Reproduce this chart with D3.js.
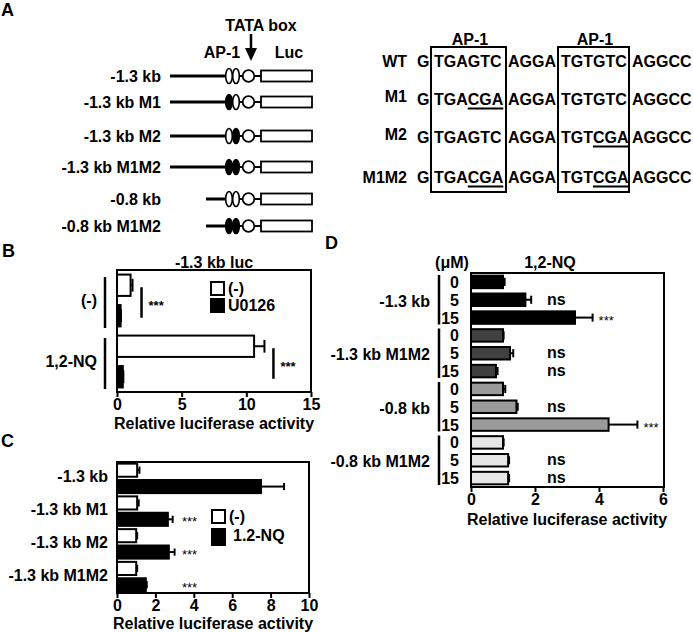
<!DOCTYPE html>
<html>
<head>
<meta charset="utf-8">
<script src="https://cdn.jsdelivr.net/npm/d3@7"></script>
<style>
  body { margin: 0; background: #fff; }
  svg { display: block; }
</style>
</head>
<body>
<svg id="fig" width="693" height="632"></svg>
<script>
// ---- panel A: constructs ----
const aNames = ["-1.3 kb", "-1.3 kb M1", "-1.3 kb M2", "-1.3 kb M1M2", "-0.8 kb", "-0.8 kb M1M2"]
const aStart = [-1.3, -1.3, -1.3, -1.3, -0.8, -0.8]
const aMut1 = [false, true, false, true, false, true]
const aMut2 = [false, false, true, true, false, true]

// ---- panel A: sequences ----
const seqNames = ["WT", "M1", "M2", "M1M2"]
const seqSite1 = ["TGAGTC", "TGACGA", "TGAGTC", "TGACGA"]
const seqSite2 = ["TGTGTC", "TGTGTC", "TGTCGA", "TGTCGA"]

// ---- panel B ----
const bGroups = ["(-)", "1,2-NQ"]
const bSeries = ["(-)", "U0126"]
const bValues = [[1.05, 0.28], [10.6, 0.45]]
const bErrors = [[0.15, 0.03], [0.8, 0.04]]
const bTicks = [0, 5, 10, 15]

// ---- panel C ----
const cGroups = ["-1.3 kb", "-1.3 kb M1", "-1.3 kb M2", "-1.3 kb M1M2"]
const cSeries = ["(-)", "1.2-NQ"]
const cValues = [[1.05, 7.5], [1.05, 2.65], [1.0, 2.7], [1.0, 1.5]]
const cErrors = [[0.12, 1.2], [0.08, 0.25], [0.05, 0.3], [0.05, 0.05]]
const cSig = ["", "***", "***", "***"]
const cTicks = [0, 2, 4, 6, 8, 10]

// ---- panel D ----
const dGroups = ["-1.3 kb", "-1.3 kb M1M2", "-0.8 kb", "-0.8 kb M1M2"]
const dDoses = ["0", "5", "15"]
const dValues = [[1.0, 1.7, 3.25], [1.0, 1.22, 0.78], [1.0, 1.42, 4.3], [1.0, 1.16, 1.16]]
const dErrors = [[0.05, 0.18, 0.55], [0.02, 0.1, 0.05], [0.07, 0.04, 0.9], [0.02, 0.03, 0.03]]
const dSig = [["", "ns", "***"], ["", "ns", "ns"], ["", "ns", "***"], ["", "ns", "ns"]]
const dTicks = [0, 2, 4, 6]
const dFills = ["#000", "#404040", "#9a9a9a", "#e6e6e6"]

const FONT = '"Liberation Sans", Arial, sans-serif'

const svg = d3.select("#fig")
  .attr("font-family", FONT)
  .attr("font-weight", "bold")
  .attr("fill", "#000")

const txt = (x, y, s, size, anchor) => svg.append("text")
  .attr("x", x).attr("y", y)
  .attr("font-size", size)
  .attr("text-anchor", anchor || "start")
  .text(s)

// panel letters
txt(1, 16, "A", 18)
txt(2, 257, "B", 18)
txt(1, 447, "C", 18)
txt(325, 249, "D", 18)

// ================= A : constructs =================
const aRowY = [76, 102, 136, 167, 199, 226]
const kb = d3.scaleLinear().domain([-1.3, -0.8]).range([170, 206])

txt(261, 31, "TATA box", 16, "middle")
svg.append("line").attr("x1", 251).attr("x2", 251).attr("y1", 34).attr("y2", 50)
  .attr("stroke", "#000").attr("stroke-width", 2.5)
svg.append("path").attr("d", "M245,48 L257,48 L251,61 Z").attr("fill", "#000")
txt(222, 58, "AP-1", 16, "middle")
txt(289, 58, "Luc", 16, "middle")

aNames.forEach((name, i) => {
  const y = aRowY[i]
  txt(161, y + 6, name, 16, "end")
  svg.append("line").attr("x1", kb(aStart[i])).attr("x2", 226)
    .attr("y1", y).attr("y2", y).attr("stroke", "#000").attr("stroke-width", 3)
  svg.append("line").attr("x1", 238).attr("x2", 261)
    .attr("y1", y).attr("y2", y).attr("stroke", "#000").attr("stroke-width", 2)
  ;[[229, aMut1[i]], [236, aMut2[i]]].forEach(([cx, m]) => {
    svg.append("ellipse").attr("cx", cx).attr("cy", y).attr("rx", 3.3).attr("ry", 7.5)
      .attr("fill", m ? "#000" : "#fff").attr("stroke", "#000").attr("stroke-width", 1.6)
  })
  svg.append("circle").attr("cx", 248.5).attr("cy", y).attr("r", 5.8)
    .attr("fill", "#fff").attr("stroke", "#000").attr("stroke-width", 1.8)
  svg.append("rect").attr("x", 261).attr("y", y - 5.5).attr("width", 51).attr("height", 11)
    .attr("fill", "#fff").attr("stroke", "#000").attr("stroke-width", 1.8)
})

// ================= A : sequences =================
const seqY = [67, 105, 143, 183]
const segX = [417, 434, 508, 561, 632]

svg.append("rect").attr("x", 431).attr("y", 47).attr("width", 75).attr("height", 145)
  .attr("fill", "none").attr("stroke", "#000").attr("stroke-width", 2)
svg.append("rect").attr("x", 558).attr("y", 47).attr("width", 71).attr("height", 145)
  .attr("fill", "none").attr("stroke", "#000").attr("stroke-width", 2)
txt(470, 45, "AP-1", 16, "middle")
txt(595, 45, "AP-1", 16, "middle")

seqNames.forEach((name, i) => {
  const y = seqY[i]
  txt(407, i === 0 || i === 3 ? y : y - 3, name, 16, "end")
  const segs = ["G", seqSite1[i], "AGGA", seqSite2[i], "AGGCC"]
  segs.forEach((s, k) => {
    const t = txt(segX[k], y, s, 16)
    const wt = k === 1 ? seqSite1[0] : k === 3 ? seqSite2[0] : s
    if (s !== wt) {
      const node = t.node()
      const x1 = node.getStartPositionOfChar(3).x
      const x2 = node.getEndPositionOfChar(5).x
      svg.append("line").attr("x1", x1).attr("x2", x2).attr("y1", y + 3.5).attr("y2", y + 3.5)
        .attr("stroke", "#000").attr("stroke-width", 2)
    }
  })
})

// ================= helpers =================
function frame(x0, y0, x1, y1) {
  svg.append("rect").attr("x", x0).attr("y", y0).attr("width", x1 - x0).attr("height", y1 - y0)
    .attr("fill", "none").attr("stroke", "#000").attr("stroke-width", 2)
}

function bottomAxis(x, yPos, ticks) {
  const ax = svg.append("g").attr("transform", `translate(0,${yPos})`)
    .call(d3.axisBottom(x).tickValues(ticks).tickSize(5).tickPadding(2).tickFormat(d3.format("d")))
  ax.attr("font-family", FONT).attr("font-size", 16).attr("font-weight", "bold")
  ax.select(".domain").remove()
  ax.selectAll("line").attr("stroke", "#000").attr("stroke-width", 2)
  ax.selectAll("text").attr("fill", "#000")
}

function drawBars(x, yG, yK, groups, keys, values, errors, fillFn, capFrac) {
  groups.forEach((grp, i) => {
    keys.forEach((k, j) => {
      const v = values[i][j], e = errors[i][j]
      const top = yG(grp) + yK(k), h = yK.bandwidth(), cy = top + h / 2
      svg.append("line").attr("x1", x(v)).attr("x2", x(v + e)).attr("y1", cy).attr("y2", cy)
        .attr("stroke", "#000").attr("stroke-width", 2)
      svg.append("line").attr("x1", x(v + e)).attr("x2", x(v + e))
        .attr("y1", cy - h * capFrac / 2).attr("y2", cy + h * capFrac / 2)
        .attr("stroke", "#000").attr("stroke-width", 2)
      svg.append("rect").attr("x", x(0)).attr("y", top).attr("width", x(v) - x(0)).attr("height", h)
        .attr("fill", fillFn(i, j)).attr("stroke", "#000").attr("stroke-width", 2)
    })
  })
}

// ================= B =================
{
  const x = d3.scaleLinear().domain([0, 15]).range([117, 311])
  const yG = d3.scaleBand().domain(bGroups).range([270, 392])
  const yK = d3.scaleBand().domain(bSeries).range([0, yG.bandwidth()]).paddingInner(0.3).paddingOuter(0.15)
  frame(117, 270, 311, 392)
  drawBars(x, yG, yK, bGroups, bSeries, bValues, bErrors, (i, j) => j === 0 ? "#fff" : "#000", 0.6)
  bottomAxis(x, 392, bTicks)
  txt(214, 268, "-1.3 kb luc", 16, "middle")
  txt(214, 429, "Relative luciferase activity", 16, "middle")

  bGroups.forEach((g, i) => {
    const g0 = yG(g)
    svg.append("line").attr("x1", 105).attr("x2", 105).attr("y1", g0 + 7).attr("y2", g0 + yG.bandwidth() - 3)
      .attr("stroke", "#000").attr("stroke-width", 2.5)
    txt(97, g0 + yG.bandwidth() / 2 + 5, g, 16, "end")
    const xs = x(d3.max(bValues[i].map((v, j) => v + bErrors[i][j]))) + 9
    const ya = g0 + yK(bSeries[0]) + yK.bandwidth() / 2 + 2
    const yb = g0 + yK(bSeries[1]) + yK.bandwidth() / 2 + 2
    svg.append("line").attr("x1", xs).attr("x2", xs).attr("y1", ya).attr("y2", yb)
      .attr("stroke", "#000").attr("stroke-width", 2.5)
    txt(xs + 7, (ya + yb) / 2 + 7, "***", 13)
  })

  // legend
  bSeries.forEach((s, j) => {
    const ly = 282 + j * 17
    svg.append("rect").attr("x", 211).attr("y", ly).attr("width", 13).attr("height", 13)
      .attr("fill", j === 0 ? "#fff" : "#000").attr("stroke", "#000").attr("stroke-width", 2)
    txt(228, ly + 12, s, 16)
  })
}

// ================= C =================
{
  const x = d3.scaleLinear().domain([0, 10]).range([117, 309])
  const yG = d3.scaleBand().domain(cGroups).range([462, 593])
  const yK = d3.scaleBand().domain(cSeries).range([0, yG.bandwidth()]).paddingInner(0.2).paddingOuter(0.1)
  frame(117, 462, 309, 593)
  drawBars(x, yG, yK, cGroups, cSeries, cValues, cErrors, (i, j) => j === 0 ? "#fff" : "#000", 0.55)
  bottomAxis(x, 593, cTicks)
  txt(213, 629, "Relative luciferase activity", 16, "middle")

  cGroups.forEach((g, i) => {
    txt(108, yG(g) + yG.bandwidth() / 2 + 4, g, 16, "end")
    if (cSig[i]) {
      const cy = yG(g) + yK(cSeries[1]) + yK.bandwidth() / 2
      svg.append("text").attr("x", 182).attr("y", cy + 7).attr("font-size", 13)
        .attr("font-weight", "normal").text(cSig[i])
    }
  })

  cSeries.forEach((s, j) => {
    const ly = 510 + j * 19
    svg.append("rect").attr("x", 212).attr("y", ly).attr("width", 13).attr("height", j === 0 ? 13 : 16)
      .attr("fill", j === 0 ? "#fff" : "#000").attr("stroke", "#000").attr("stroke-width", 2)
    txt(j === 0 ? 229 : 233, ly + 12, s, 16)
  })
}

// ================= D =================
{
  const x = d3.scaleLinear().domain([0, 6]).range([471, 663])
  const yG = d3.scaleBand().domain(dGroups).range([273, 487])
  const yK = d3.scaleBand().domain(dDoses).range([0, yG.bandwidth()]).paddingInner(0.3).paddingOuter(0.15)
  frame(471, 273, 664, 487)
  drawBars(x, yG, yK, dGroups, dDoses, dValues, dErrors, (i) => dFills[i], 0.65)
  bottomAxis(x, 487, dTicks)
  txt(567, 525, "Relative luciferase activity", 16, "middle")
  txt(452, 268, "(\u03bcM)", 16, "middle")
  txt(550, 268, "1,2-NQ", 16, "middle")

  dGroups.forEach((g, i) => {
    const g0 = yG(g)
    svg.append("line").attr("x1", 439).attr("x2", 439).attr("y1", g0 + 2).attr("y2", g0 + yG.bandwidth() - 2)
      .attr("stroke", "#000").attr("stroke-width", 2.5)
    txt(430, g0 + yK(dDoses[1]) + yK.bandwidth() / 2 + 7, g, 16, "end")
    dDoses.forEach((d, j) => {
      const cy = g0 + yK(d) + yK.bandwidth() / 2
      txt(459, cy + 6, d, 16, "end")
      const s = dSig[i][j]
      if (s === "ns") txt(547, cy + 5, s, 16)
      else if (s) svg.append("text").attr("x", x(dValues[i][j] + dErrors[i][j]) + 6).attr("y", cy + 7)
        .attr("font-size", 13).attr("font-weight", "normal").text(s)
    })
  })
}
</script>
</body>
</html>
